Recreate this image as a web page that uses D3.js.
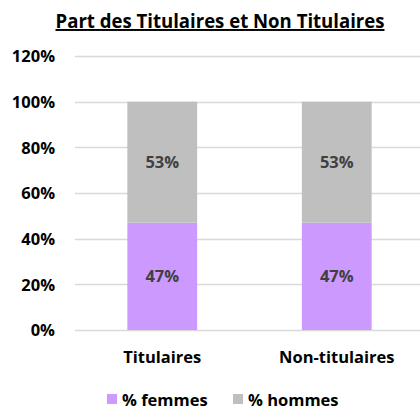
<!DOCTYPE html>
<html><head><meta charset="utf-8">
<script src="https://cdn.jsdelivr.net/npm/d3@7"></script>
<style>body{margin:0;background:#fff;} text{font-family:"Open Sans","Liberation Sans",sans-serif;}</style>
</head><body>
<svg id="c" width="420" height="412"></svg>
<script>
const categories = ["Titulaires", "Non-titulaires"];
const femmes = [0.47, 0.47];
const hommes = [0.53, 0.53];
const seriesNames = ["% femmes", "% hommes"];
const yTicks = [0, 0.2, 0.4, 0.6, 0.8, 1.0, 1.2];
const title = "Part des Titulaires et Non Titulaires";
const colors = ["#CC99FF", "#BFBFBF"];

const svg = d3.select("#c");
const x = d3.scaleBand().domain(categories).range([75, 424]).paddingInner(0.6).paddingOuter(0.3);
const y = d3.scaleLinear().domain([0, 1.2]).range([330, 56]);
const FS = 16.5;

// title
svg.append("text").attr("x", 220).attr("y", 28).attr("text-anchor", "middle")
  .attr("font-size", 19.5).attr("font-weight", "bold").attr("fill", "#000")
  .attr("text-decoration", "underline").attr("textLength", 329).attr("lengthAdjust", "spacingAndGlyphs").text(title);

// gridlines
svg.append("g").selectAll("line").data(yTicks).join("line")
  .attr("x1", 75).attr("x2", 420).attr("y1", d => Math.round(y(d)) + 0.5).attr("y2", d => Math.round(y(d)) + 0.5)
  .attr("stroke", "#D9D9D9").attr("stroke-width", 1.3);

// y axis labels
const yAxis = d3.axisLeft(y).tickValues(yTicks).tickFormat(d3.format(".0%")).tickSize(0).tickPadding(0);
const ga = svg.append("g").attr("transform", "translate(55,0)").call(yAxis);
ga.select(".domain").remove();
ga.selectAll("text").attr("font-size", FS).attr("font-weight", "bold").attr("fill", "#000")
  .attr("font-family", "'Open Sans','Liberation Sans',sans-serif").attr("dy", "0.35em");

// stacked bars
const rows = categories.map((c, i) => ({cat: c, f: femmes[i], h: hommes[i]}));
const stack = d3.stack().keys(["f", "h"])(rows);
stack.forEach((layer, li) => {
  const g = svg.append("g");
  g.selectAll("rect").data(layer).join("rect")
    .attr("x", d => x(d.data.cat)).attr("width", x.bandwidth())
    .attr("y", d => y(d[1])).attr("height", d => y(d[0]) - y(d[1]))
    .attr("fill", colors[li]);
  g.selectAll("text").data(layer).join("text")
    .attr("x", d => x(d.data.cat) + x.bandwidth() / 2)
    .attr("y", d => (y(d[0]) + y(d[1])) / 2 + 6)
    .attr("text-anchor", "middle").attr("font-size", FS).attr("font-weight", "bold").attr("fill", "#404040")
    .text(d => Math.round((d[1] - d[0]) * 100) + "%");
});

// x axis labels
const xa = d3.axisBottom(x).tickSize(0).tickPadding(0);
const gx = svg.append("g").attr("transform", "translate(0,363)").call(xa);
gx.select(".domain").remove();
gx.selectAll("text").attr("font-size", FS).attr("font-weight", "bold").attr("fill", "#000").attr("dy", 0)
  .attr("font-family", "'Open Sans','Liberation Sans',sans-serif");

// legend
const legX = [107, 233];
const lg = svg.append("g");
seriesNames.forEach((s, i) => {
  lg.append("rect").attr("x", legX[i]).attr("y", 394).attr("width", 10).attr("height", 10).attr("fill", colors[i]);
  lg.append("text").attr("x", legX[i] + 15).attr("y", 406).attr("font-size", FS).attr("font-weight", "bold")
    .attr("fill", "#000").text(s);
});
</script>
</body></html>
